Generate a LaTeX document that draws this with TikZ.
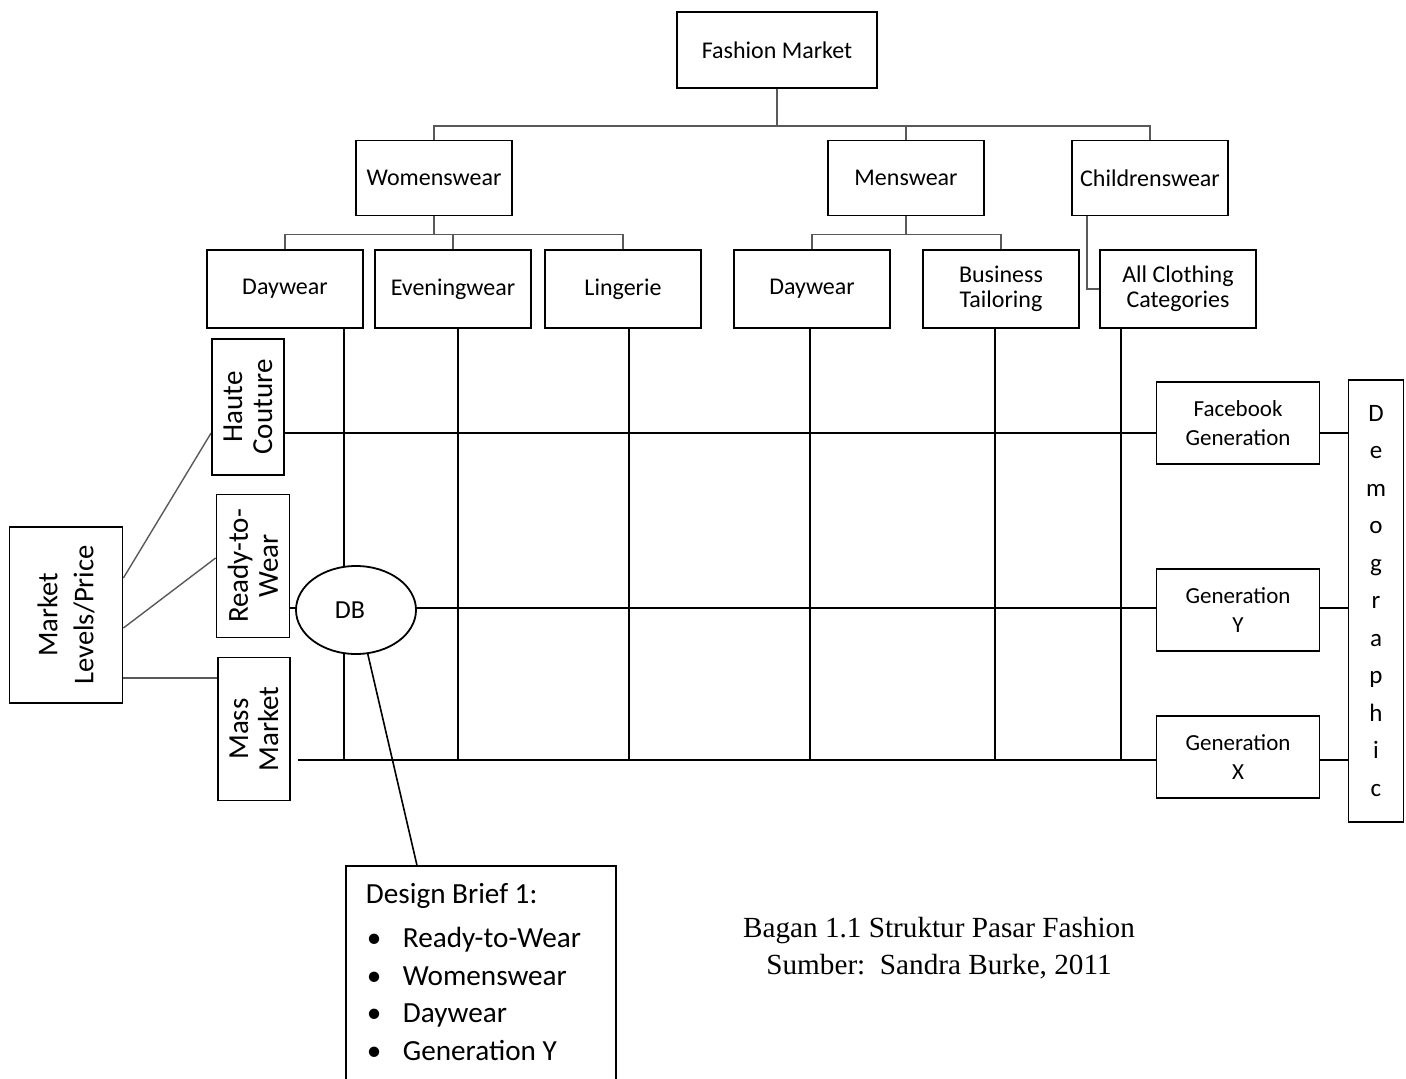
\documentclass[tikz,border=0pt]{standalone}
\usepackage{fontspec}
\setmainfont{Carlito}
\newfontfamily\capfont{Liberation Serif}
\usetikzlibrary{shapes.geometric,backgrounds}

\begin{document}
\begin{tikzpicture}[x=0.5pt,y=-0.5pt,line join=miter]
  \tikzstyle{box}=[draw=black,line width=0.9pt,fill=white,align=center,inner sep=2pt,font=\fontsize{12}{12.5}\selectfont]
  \tikzstyle{catbox}=[box,minimum width=78pt,minimum height=39pt]
  \tikzstyle{sidebox}=[box,rotate=90,font=\fontsize{14.5}{15}\selectfont]
  \tikzstyle{genbox}=[box,minimum width=81.5pt,minimum height=41pt,font=\fontsize{11.5}{14.5}\selectfont]
  \tikzstyle{treeline}=[draw=black!65,line width=0.7pt]
  \tikzstyle{gridline}=[draw=black,line width=1.1pt]

  \useasboundingbox (0,0) rectangle (1406,1079);
  \clip (0,0) rectangle (1406,1079);

  % market tree
  \node[box,minimum width=100pt,minimum height=38pt]   (fm)  at (777,50)  {Fashion Market};
  \node[box,minimum width=78pt,minimum height=37.5pt]  (ww)  at (434,178) {Womenswear};
  \node[box,minimum width=78pt,minimum height=37.5pt]  (mw)  at (906,178) {Menswear};
  \node[box,minimum width=78pt,minimum height=37.5pt]  (cw)  at (1150,178) {Childrenswear};
  \node[catbox] (dw1) at (285,289)  {Daywear};
  \node[catbox] (ev)  at (453,289)  {Eveningwear};
  \node[catbox] (lin) at (623,289)  {Lingerie};
  \node[catbox] (dw2) at (812,289)  {Daywear};
  \node[catbox] (bt)  at (1001,289) {Business\\Tailoring};
  \node[catbox] (acc) at (1178,289) {All Clothing\\Categories};

  % price levels
  \node[sidebox,minimum width=88pt,minimum height=56.5pt,font=\fontsize{14.3}{18}\selectfont] (mkt) at (66,615) {Market\\Levels/Price};
  \node[sidebox,minimum width=68pt,minimum height=36pt]     (hc)  at (248,407) {Haute\\Couture};
  \node[sidebox,minimum width=71.5pt,minimum height=36.5pt] (rtw) at (253,566) {Ready-to-\\Wear};
  \node[sidebox,minimum width=71.5pt,minimum height=36pt]   (mm)  at (254,729) {Mass\\Market};

  % demographic
  \node[genbox] (fb) at (1238,423) {Facebook\\Generation};
  \node[genbox] (gy) at (1238,610) {Generation\\Y};
  \node[genbox] (gx) at (1238,757) {Generation\\X};
  \node[box,minimum width=27.5pt,minimum height=221pt,font=\fontsize{12.5}{18.75}\selectfont] (demo) at (1376,601)
    {D\\e\\m\\o\\g\\r\\a\\p\\h\\i\\c};

  \node[draw,ellipse,line width=0.9pt,fill=white,minimum width=60pt,minimum height=44pt,inner sep=0pt,
        font=\fontsize{13}{14}\selectfont] (db) at (356,610) {\hspace*{-6pt}DB};

  \node[draw,line width=0.9pt,fill=white,anchor=north west,inner sep=0pt] (brief) at (345,865)
    {\parbox[c][120pt][t]{135pt}{\raggedright\fontsize{14.6}{18.75}\selectfont
      \vspace*{9pt}\hspace*{10pt}Design Brief 1:\par\vspace{3.25pt}
      \hspace*{10pt}\makebox[18.5pt][l]{\hspace*{0.5pt}\textbullet}Ready-to-Wear\par
      \hspace*{10pt}\makebox[18.5pt][l]{\hspace*{0.5pt}\textbullet}Womenswear\par
      \hspace*{10pt}\makebox[18.5pt][l]{\hspace*{0.5pt}\textbullet}Daywear\par
      \hspace*{10pt}\makebox[18.5pt][l]{\hspace*{0.5pt}\textbullet}Generation Y}};

  \node[font=\capfont\fontsize{14.6}{18.5}\selectfont,align=center] (cap) at (939,948)
    {Bagan 1.1 Struktur Pasar Fashion\\Sumber:\ \ Sandra Burke, 2011};

  \coordinate (hcy) at (0,433);
  \coordinate (rwy) at (0,608);
  \coordinate (mmy) at (0,760);
  \coordinate (m1)  at (0,578);
  \coordinate (m2)  at (0,628);
  \coordinate (m3)  at (0,678);
  \coordinate (r2)  at (0,558);

  \begin{pgfonlayer}{background}
    % tree connectors
    \draw[treeline] (fm.south) -- ++(0,37) coordinate (tj);
    \foreach \n in {ww,mw,cw} \draw[treeline] (tj) -| (\n.north);
    \draw[treeline] (ww.south) -- ++(0,18) coordinate (wj);
    \foreach \n in {dw1,ev,lin} \draw[treeline] (wj) -| (\n.north);
    \draw[treeline] (mw.south) -- ++(0,18) coordinate (mj);
    \foreach \n in {dw2,bt} \draw[treeline] (mj) -| (\n.north);
    \draw[treeline] ([xshift=-31.5pt]cw.south) |- (acc.west);

    % levels
    \draw[treeline] (mkt.south |- m1) -- (hc.north |- hcy);
    \draw[treeline] (mkt.south |- m2) -- (rtw.north |- r2);
    \draw[treeline] (mkt.south |- m3) -- (mm.north |- m3);

    % grid
    \foreach \n/\dx in {dw1/29.5pt,ev/2.5pt,lin/3pt,dw2/-1pt,bt/-3pt,acc/-28.5pt}
      \draw[gridline] ([xshift=\dx]\n.south) -- ++(0,432);
    \draw[gridline] (hc.south |- hcy) -- (fb.west |- hcy);
    \draw[gridline] (rtw.south |- rwy) -- (gy.west |- rwy);
    \draw[gridline,shorten <=3.5pt] (mm.south |- mmy) -- (gx.west |- mmy);
    \draw[gridline] (fb.east |- hcy) -- (demo.west |- hcy);
    \draw[gridline] (gy.east |- rwy) -- (demo.west |- rwy);
    \draw[gridline] (gx.east |- mmy) -- (demo.west |- mmy);

    \draw[line width=0.8pt] (db.-75) -- ([xshift=-32pt]brief.north);
  \end{pgfonlayer}
\end{tikzpicture}
\end{document}
